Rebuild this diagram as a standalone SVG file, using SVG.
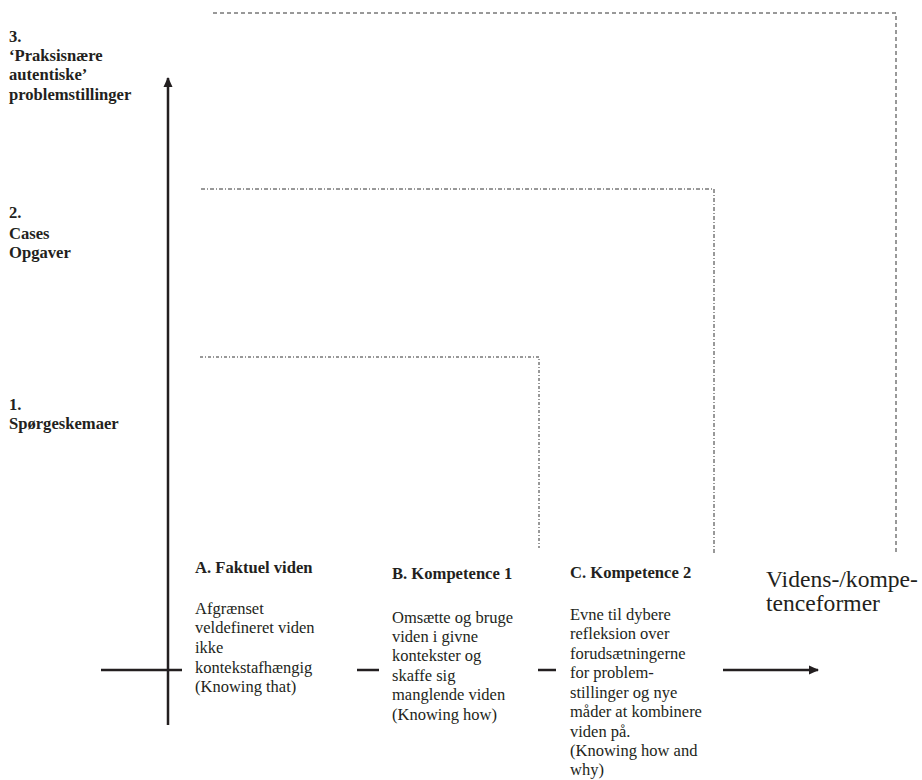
<svg xmlns="http://www.w3.org/2000/svg" width="922" height="780" viewBox="0 0 922 780">
<style>
text{font-family:"Liberation Serif","Times New Roman",serif;fill:#231f20}
.b{font-weight:bold;font-size:16.6px}
.t{font-weight:bold;font-size:16.6px}
.p{font-size:16.5px}
.big{font-size:23.6px}
.axis{stroke:#231f20;stroke-width:2.5;fill:none}
.d1{stroke:#333;stroke-width:1;fill:none;stroke-dasharray:4 3}
.d2{stroke:#333;stroke-width:1;fill:none;stroke-dasharray:4 2 1 2}
.d3{stroke:#333;stroke-width:1;fill:none;stroke-dasharray:3 2 1 2}
</style>
<defs>
<marker id="ah" markerWidth="10" markerHeight="10" refX="9" refY="5" orient="auto" markerUnits="userSpaceOnUse">
<path d="M0,0.5 L10,5 L0,9.5 Z" fill="#231f20"/>
</marker>
</defs>
<g id="connectors">
<line class="axis" x1="168" y1="725" x2="168" y2="78" marker-end="url(#ah)"/>
<line class="axis" x1="101" y1="670" x2="182" y2="670"/>
<line class="axis" x1="357" y1="670" x2="379" y2="670"/>
<line class="axis" x1="538" y1="670" x2="556" y2="670"/>
<line class="axis" x1="723" y1="670" x2="818" y2="670" marker-end="url(#ah)"/>
<polyline class="d1" points="213,13 896,13 896,553"/>
<polyline class="d2" points="201,189 714,189 714,555"/>
<polyline class="d3" points="200,357 539,357 539,548"/>
</g>
<g id="level3">
<text class="b" x="9" y="42">3.</text>
<text class="b" x="9" y="61">‘Praksisnære</text>
<text class="b" x="9" y="80">autentiske’</text>
<text class="b" x="9" y="100">problemstillinger</text>
</g>
<g id="level2">
<text class="b" x="9" y="218">2.</text>
<text class="b" x="9" y="239">Cases</text>
<text class="b" x="9" y="258">Opgaver</text>
</g>
<g id="level1">
<text class="b" x="9" y="410">1.</text>
<text class="b" x="9" y="429">Spørgeskemaer</text>
</g>
<g id="nodeA">
<text class="t" x="195" y="573">A. Faktuel viden</text>
<text class="p" x="195" y="614">Afgrænset</text>
<text class="p" x="195" y="633">veldefineret viden</text>
<text class="p" x="195" y="653">ikke</text>
<text class="p" x="195" y="673">kontekstafhængig</text>
<text class="p" x="195" y="692">(Knowing that)</text>
</g>
<g id="nodeB">
<text class="t" x="392" y="579">B. Kompetence 1</text>
<text class="p" x="392" y="623">Omsætte og bruge</text>
<text class="p" x="392" y="642">viden i givne</text>
<text class="p" x="392" y="661">kontekster og</text>
<text class="p" x="392" y="681">skaffe sig</text>
<text class="p" x="392" y="700">manglende viden</text>
<text class="p" x="392" y="720">(Knowing how)</text>
</g>
<g id="nodeC">
<text class="t" x="570" y="578">C. Kompetence 2</text>
<text class="p" x="570" y="620">Evne til dybere</text>
<text class="p" x="570" y="639">refleksion over</text>
<text class="p" x="570" y="659">forudsætningerne</text>
<text class="p" x="570" y="678">for problem-</text>
<text class="p" x="570" y="698">stillinger og nye</text>
<text class="p" x="570" y="717">måder at kombinere</text>
<text class="p" x="570" y="737">viden på.</text>
<text class="p" x="570" y="756">(Knowing how and</text>
<text class="p" x="570" y="775">why)</text>
</g>
<g id="axisLabel">
<text class="big" x="766" y="587">Videns-/kompe-</text>
<text class="big" x="766" y="611">tenceformer</text>
</g>
</svg>
